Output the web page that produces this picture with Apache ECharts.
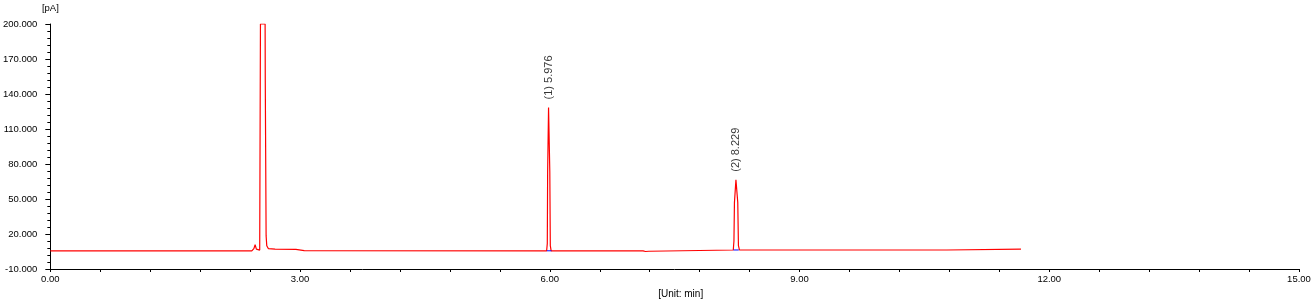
<!DOCTYPE html>
<html>
<head>
<meta charset="utf-8">
<script src="https://cdn.jsdelivr.net/npm/echarts@6/dist/echarts.min.js"></script>
<style>html,body{margin:0;padding:0;background:#fff}#c{width:1316px;height:304px}</style>
</head>
<body>
<div id="c"></div>
<script>
// Chromatogram trace: [time (min), signal (pA)]
const trace = [
  [0.00, 5.5], [2.42, 5.6], [2.445, 7.5], [2.460, 10.8], [2.475, 7.0], [2.490, 5.6], [2.515, 6.2],
  [2.524, 200], [2.580, 200], [2.582, 151], [2.590, 150], [2.592, 18.6], [2.600, 10],
  [2.620, 7.4], [2.70, 7.1], [2.95, 6.8], [3.05, 5.8], [5.962, 5.6],
  [5.970, 12], [5.974, 73], [5.985, 128.5], [6.000, 73], [6.006, 10], [6.016, 5.6],
  [7.12, 5.6], [7.15, 5.0], [7.17, 6.0], [7.19, 5.2], [7.21, 6.3], [8.204, 6.3],
  [8.212, 14], [8.218, 47], [8.236, 66.5], [8.258, 47], [8.266, 10], [8.278, 6.3],
  [10.77, 6.3], [10.775, 7.1], [11.66, 7.1]
];
// integration baselines (blue) under the named peaks
const base1 = [[5.964, 5.6], [6.020, 5.6]];
const base2 = [[8.206, 6.3], [8.270, 6.3]];
// peak annotations
const peakTimes = [5.985, 8.236];
const peakHeights = [128.5, 66.5];
const peakNames = ['(1) 5.976', '(2) 8.229'];

const font = 'Liberation Sans, Arial, sans-serif';
const chart = echarts.init(document.getElementById('c'), null, {renderer: 'canvas'});
chart.setOption({
  animation: false,
  backgroundColor: '#fff',
  grid: {left: 49, right: 17, top: 24, bottom: 35, containLabel: false},
  xAxis: {
    type: 'value', min: 0, max: 15, interval: 3,
    name: '[Unit: min]', nameLocation: 'middle', nameGap: 17,
    nameTextStyle: {color: '#000', fontSize: 10, fontFamily: font, padding: [0, 0, 0, 12]},
    axisLine: {onZero: false, lineStyle: {color: '#000', width: 1}},
    axisTick: {show: true, length: 3, lineStyle: {color: '#000'}},
    minorTick: {show: true, splitNumber: 5, length: 3, lineStyle: {color: '#000'}},
    splitLine: {show: false},
    axisLabel: {color: '#000', fontSize: 9.5, fontFamily: font, margin: 5,
      formatter: v => v.toFixed(2)}
  },
  yAxis: {
    type: 'value', min: -10, max: 200, interval: 30,
    name: '[pA]', nameLocation: 'end', nameGap: 11,
    nameTextStyle: {color: '#000', fontSize: 9.5, fontFamily: font, align: 'center'},
    axisLine: {show: true, lineStyle: {color: '#000', width: 1}},
    axisTick: {show: true, length: 5, lineStyle: {color: '#000'}},
    minorTick: {show: true, splitNumber: 5, length: 3, lineStyle: {color: '#000'}},
    splitLine: {show: false},
    axisLabel: {color: '#000', fontSize: 9.5, fontFamily: font, margin: 13,
      formatter: v => v.toFixed(3)}
  },
  series: [
    {type: 'line', data: trace, symbol: 'none', lineStyle: {color: '#ff0000', width: 1.2}, z: 2},
    {type: 'line', data: base1, symbol: 'none', lineStyle: {color: '#0000ff', width: 1}, z: 3},
    {type: 'line', data: base2, symbol: 'none', lineStyle: {color: '#0000ff', width: 1}, z: 3},
    {type: 'scatter', symbolSize: 0, z: 4,
      data: peakTimes.map((t, i) => ({value: [t, peakHeights[i]], name: peakNames[i]})),
      label: {show: true, position: 'top', distance: 8, rotate: 90, align: 'left', verticalAlign: 'middle',
        formatter: p => p.name, color: '#000', fontSize: 11, fontFamily: font}}
  ]
});
</script>
</body>
</html>
